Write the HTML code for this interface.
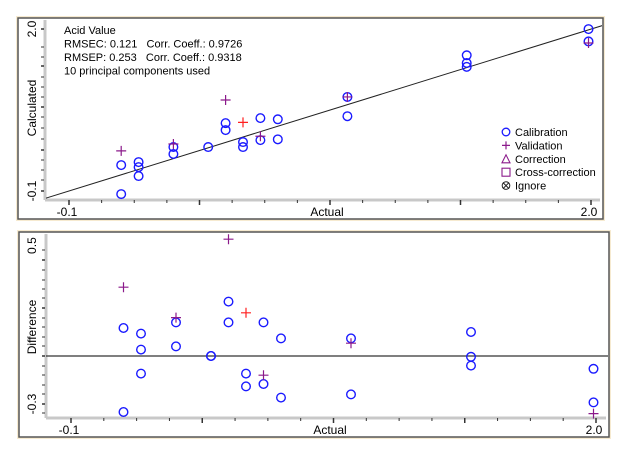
<!DOCTYPE html>
<html><head><meta charset="utf-8"><style>
body{margin:0;background:#fff;width:625px;height:449px;overflow:hidden;font-family:"Liberation Sans",Arial,sans-serif}
svg text{font-family:"Liberation Sans",Arial,sans-serif;fill:#000}
</style></head><body>
<svg id="c" width="625" height="449"></svg>
<script>
const actual=[0.11,0.18,0.32,0.46,0.53,0.60,0.67,0.74,1.02,1.50,1.99];
const calCalc=[[0.236,-0.14],[0.275,0.21,0.094],[0.47,0.38],[0.47],[0.78,0.69],[0.535,0.47],[0.845,0.56],[0.83,0.57],[1.12,0.87],[1.66,1.56,1.51],[2.0,1.84]];
const valCalc=[[0,0.42],[2,0.51],[4,1.08],[6,0.61],[8,1.12],[10,1.82]];
const redCalc=[[5,0.79]];
const calDiff=[[0.175,-0.35],[0.14,0.04,-0.11],[0.21,0.06],[0,0],[0.34,0.21],[-0.11,-0.19],[0.21,-0.175],[0.11,-0.26],[0.11,-0.24],[0.15,-0.005,-0.06],[-0.08,-0.29]];
const valDiff=[[0,0.43],[2,0.24],[4,0.73],[6,-0.12],[8,0.08],[10,-0.36]];
const redDiff=[[5,0.27]];
const xTickLabels=["-0.1","2.0"];
const topYLabels=["2.0","-0.1"];
const botYLabelVals=[0.69,-0.3];
const botYLabels=["0.5","-0.3"];

const NS="http://www.w3.org/2000/svg";
const svg=document.getElementById('c');
function mk(tag,attrs,parent,text){const e=document.createElementNS(NS,tag);for(const k in attrs)e.setAttribute(k,attrs[k]);if(text!==undefined)e.textContent=text;(parent||svg).appendChild(e);return e;}

function panel(cfg){
  const g=mk('g',{});
  
  
  const fr=mk('rect',{x:cfg.fx-2,y:cfg.fy-2,width:cfg.fw+4,height:cfg.fh+4,fill:'#f6ead0'},g);
  
  const fr2=mk('rect',{x:cfg.fx,y:cfg.fy,width:cfg.fw,height:cfg.fh,fill:'#fff',stroke:'#555','stroke-width':1.5},g);
  
  const sx=v=>cfg.x0+(v-(-0.1))/(2.1)*(cfg.x1-cfg.x0);
  const sy=v=>cfg.yz-(v-cfg.yref)*cfg.yk;
  const ax=mk('line',{x1:cfg.ax,y1:cfg.ay,x2:cfg.fx+cfg.fw-3,y2:cfg.ay,stroke:'#c8c8c8','stroke-width':3},g);
  
  const ay=mk('line',{x1:cfg.ax,y1:cfg.fy+2,x2:cfg.ax,y2:cfg.ay,stroke:'#c8c8c8','stroke-width':3},g);
  
  for(let i=0;i<=16;i++){const px=cfg.x0+i*(cfg.x1-cfg.x0)/16;const maj=i%4==0;
    const t=mk('line',{x1:px,y1:cfg.ay,x2:px,y2:cfg.ay+(maj?5:3),stroke:'#333','stroke-width':maj?1.5:1},g);
    }
  for(const yp of cfg.yticks){const tk=mk('line',{x1:cfg.ax-4,y1:yp[0],x2:cfg.ax-1,y2:yp[0],stroke:'#333','stroke-width':yp[1]?1.5:1},g);
    }
  const l1=mk('text',{x:sx(-0.1)-2,y:cfg.ay+16,'font-size':12,'text-anchor':'middle'},g,xTickLabels[0]);
  
  const l2=mk('text',{x:sx(2.0)-2,y:cfg.ay+16,'font-size':12,'text-anchor':'middle'},g,xTickLabels[1]);
  
  const xt=mk('text',{x:cfg.xtx,y:cfg.ay+16,'font-size':12,'text-anchor':'middle'},g,'Actual');
  
  cfg.ylabels.forEach((lb,i)=>{const yy=sy(cfg.ylabelVals[i]);
    const t=mk('text',{x:0,y:0,'font-size':12,'text-anchor':'middle',transform:`translate(36,${yy}) rotate(-90)`},g,lb);
    });
  const yt=mk('text',{x:0,y:0,'font-size':12,'text-anchor':'middle',transform:`translate(36,${cfg.ytY}) rotate(-90)`},g,cfg.ytitle);
  
  return {g,sx,sy};
}
function circ(g,x,y){const c=mk('circle',{cx:x,cy:y,r:4.3,fill:'none',stroke:'#1a1aff','stroke-width':1.4},g);
  }
function plus(g,x,y,col,name){const p=mk('path',{d:`M${x-5},${y}H${x+5}M${x},${y-5}V${y+5}`,stroke:col,'stroke-width':1.2},g);
  }

const T=panel({name:'calculated-vs-actual-panel',fx:18,fy:18,fw:585,fh:201,x0:69,x1:591,yz:191,yref:-0.1,yk:77.1,ax:45,ay:200,
  yticks:[[29,1],[47,0],[57,0],[66,1],[77,0],[87,0],[97,0],[107,1],[117,0],[128,0],[139,0],[150,1],[160,0],[170,0],[180,0],[191,1]],
  ylabels:topYLabels,ylabelVals:[2.0,-0.1],ytitle:'Calculated',ytY:108,xtx:327});
const cp=document.createElementNS(NS,'clipPath');cp.id='clipT';svg.appendChild(cp);
mk('rect',{x:46,y:19,width:556,height:180},cp);
const ref=mk('line',{x1:T.sx(-0.2),y1:T.sy(-0.2),x2:T.sx(2.06),y2:T.sy(2.06),stroke:'#222','stroke-width':1,'clip-path':'url(#clipT)'},T.g);

calCalc.forEach((arr,i)=>arr.forEach(v=>circ(T.g,T.sx(actual[i]),T.sy(v))));
valCalc.forEach(([i,v])=>plus(T.g,T.sx(actual[i]),T.sy(v),'#8b1a8b','validation-point'));
redCalc.forEach(([i,v])=>plus(T.g,T.sx(actual[i]),T.sy(v),'#ff2020','correction-point'));
const info=['Acid Value','RMSEC: 0.121   Corr. Coeff.: 0.9726','RMSEP: 0.253   Corr. Coeff.: 0.9318','10 principal components used'];
const ig=mk('g',{},T.g);
info.forEach((s,i)=>{const t=mk('text',{x:64,y:34+i*13.5,'font-size':11},ig,s);t.setAttribute('style','white-space:pre');});
const lg=mk('g',{},T.g);
const leg=['Calibration','Validation','Correction','Cross-correction','Ignore'];
leg.forEach((s,i)=>{const y=132+i*13.4;
  const e=mk('g',{},lg);
  if(i==0)mk('circle',{cx:506,cy:y,r:3.8,fill:'none',stroke:'#1a1aff','stroke-width':1.3},e);
  if(i==1)mk('path',{d:`M502,${y}H510M506,${y-4}V${y+4}`,stroke:'#8b1a8b','stroke-width':1.2},e);
  if(i==2)mk('path',{d:`M502,${y+4}L506,${y-4}L510,${y+4}Z`,fill:'none',stroke:'#8b1a8b','stroke-width':1.1},e);
  if(i==3)mk('rect',{x:502,y:y-4,width:8,height:8,fill:'none',stroke:'#8b1a8b','stroke-width':1.1},e);
  if(i==4){mk('circle',{cx:506,cy:y,r:3.8,fill:'none',stroke:'#222','stroke-width':1},e);mk('path',{d:`M503,${y-3}L509,${y+3}M509,${y-3}L503,${y+3}`,stroke:'#222','stroke-width':1},e);}
  mk('text',{x:515,y:y+4,'font-size':11},e,s);});

const B=panel({name:'difference-vs-actual-panel',fx:19,fy:232,fw:590,fh:205,x0:71,x1:596,yz:356,yref:0,yk:160,ax:46,ay:418,
  yticks:[[250,0],[260,1],[270,0],[280,0],[289,0],[298,0],[308,1],[318,0],[327,0],[337,0],[346,0],[356,1],[366,0],[375,0],[385,0],[394,0],[404,1],[413,0]],
  ylabels:botYLabels,ylabelVals:botYLabelVals,ytitle:'Difference',ytY:327,xtx:330});
const zl=mk('line',{x1:46,y1:B.sy(0),x2:608,y2:B.sy(0),stroke:'#333','stroke-width':1.3},B.g);

calDiff.forEach((arr,i)=>arr.forEach(v=>circ(B.g,B.sx(actual[i]),B.sy(v))));
valDiff.forEach(([i,v])=>plus(B.g,B.sx(actual[i]),B.sy(v),'#8b1a8b','validation-point'));
redDiff.forEach(([i,v])=>plus(B.g,B.sx(actual[i]),B.sy(v),'#ff2020','correction-point'));
</script>
</body></html>
